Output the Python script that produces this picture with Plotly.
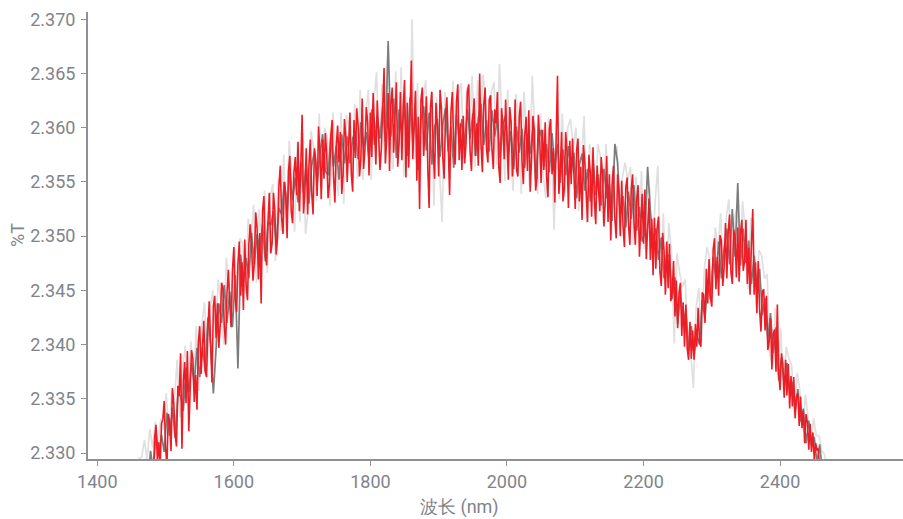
import plotly.graph_objects as go

# Sampling grids (nm)
red_start_nm = 1456
red_step_nm = 2
dark_start_nm = 1458
light_start_nm = 1457
gray_step_nm = 4

# %T values
red_t = [
    2.3240, 2.3260, 2.3235, 2.3255, 2.3278, 2.3249, 2.3257, 2.3283, 2.3282, 2.3265,
    2.3282, 2.3289, 2.3290, 2.3277, 2.3314, 2.3326, 2.3293, 2.3310, 2.3285, 2.3327,
    2.3331, 2.3348, 2.3305, 2.3288, 2.3336, 2.3329, 2.3302, 2.3360, 2.3346, 2.3317,
    2.3306, 2.3362, 2.3353, 2.3392, 2.3304, 2.3366, 2.3384, 2.3346, 2.3394, 2.3320,
    2.3358, 2.3395, 2.3387, 2.3347, 2.3372, 2.3340, 2.3402, 2.3417, 2.3373, 2.3399,
    2.3422, 2.3375, 2.3370, 2.3415, 2.3440, 2.3400, 2.3365, 2.3435, 2.3445, 2.3406,
    2.3438, 2.3397, 2.3417, 2.3457, 2.3452, 2.3417, 2.3400, 2.3448, 2.3469, 2.3438,
    2.3416, 2.3469, 2.3490, 2.3443, 2.3430, 2.3475, 2.3495, 2.3445, 2.3476, 2.3432,
    2.3497, 2.3454, 2.3441, 2.3493, 2.3511, 2.3490, 2.3459, 2.3475, 2.3522, 2.3508,
    2.3460, 2.3503, 2.3438, 2.3523, 2.3537, 2.3484, 2.3473, 2.3513, 2.3540, 2.3484,
    2.3493, 2.3540, 2.3524, 2.3483, 2.3498, 2.3546, 2.3565, 2.3517, 2.3502, 2.3550,
    2.3539, 2.3498, 2.3560, 2.3574, 2.3523, 2.3512, 2.3559, 2.3573, 2.3538, 2.3587,
    2.3523, 2.3564, 2.3612, 2.3521, 2.3540, 2.3581, 2.3520, 2.3566, 2.3589, 2.3540,
    2.3520, 2.3581, 2.3570, 2.3537, 2.3601, 2.3578, 2.3534, 2.3589, 2.3553, 2.3595,
    2.3576, 2.3535, 2.3548, 2.3593, 2.3607, 2.3555, 2.3531, 2.3583, 2.3602, 2.3568,
    2.3596, 2.3539, 2.3557, 2.3608, 2.3592, 2.3550, 2.3587, 2.3614, 2.3558, 2.3541,
    2.3607, 2.3572, 2.3618, 2.3602, 2.3555, 2.3571, 2.3627, 2.3562, 2.3580, 2.3619,
    2.3605, 2.3556, 2.3614, 2.3573, 2.3632, 2.3600, 2.3566, 2.3625, 2.3583, 2.3561,
    2.3580, 2.3616, 2.3655, 2.3567, 2.3592, 2.3632, 2.3560, 2.3622, 2.3637, 2.3577,
    2.3607, 2.3642, 2.3564, 2.3586, 2.3633, 2.3570, 2.3618, 2.3644, 2.3554, 2.3623,
    2.3563, 2.3617, 2.3662, 2.3571, 2.3606, 2.3634, 2.3551, 2.3610, 2.3525, 2.3625,
    2.3637, 2.3574, 2.3599, 2.3629, 2.3564, 2.3526, 2.3619, 2.3633, 2.3578, 2.3553,
    2.3623, 2.3601, 2.3555, 2.3635, 2.3618, 2.3573, 2.3553, 2.3611, 2.3628, 2.3578,
    2.3538, 2.3615, 2.3633, 2.3583, 2.3566, 2.3624, 2.3640, 2.3570, 2.3604, 2.3561,
    2.3611, 2.3567, 2.3585, 2.3633, 2.3640, 2.3578, 2.3560, 2.3609, 2.3627, 2.3574,
    2.3604, 2.3565, 2.3650, 2.3585, 2.3559, 2.3621, 2.3637, 2.3581, 2.3568, 2.3626,
    2.3630, 2.3580, 2.3562, 2.3617, 2.3604, 2.3633, 2.3564, 2.3549, 2.3618, 2.3604,
    2.3571, 2.3626, 2.3582, 2.3552, 2.3619, 2.3606, 2.3555, 2.3575, 2.3626, 2.3561,
    2.3555, 2.3610, 2.3624, 2.3569, 2.3548, 2.3593, 2.3610, 2.3560, 2.3616, 2.3541,
    2.3571, 2.3611, 2.3598, 2.3542, 2.3554, 2.3612, 2.3588, 2.3549, 2.3598, 2.3561,
    2.3605, 2.3555, 2.3536, 2.3599, 2.3608, 2.3557, 2.3581, 2.3531, 2.3590, 2.3648,
    2.3539, 2.3559, 2.3596, 2.3532, 2.3544, 2.3596, 2.3577, 2.3526, 2.3588, 2.3548,
    2.3590, 2.3546, 2.3525, 2.3579, 2.3590, 2.3532, 2.3564, 2.3515, 2.3584, 2.3568,
    2.3530, 2.3513, 2.3575, 2.3559, 2.3518, 2.3582, 2.3534, 2.3511, 2.3565, 2.3536,
    2.3523, 2.3573, 2.3557, 2.3509, 2.3532, 2.3574, 2.3513, 2.3557, 2.3496, 2.3548,
    2.3565, 2.3516, 2.3498, 2.3557, 2.3539, 2.3500, 2.3551, 2.3509, 2.3490, 2.3545,
    2.3554, 2.3510, 2.3492, 2.3543, 2.3557, 2.3513, 2.3492, 2.3534, 2.3547, 2.3481,
    2.3505, 2.3539, 2.3493, 2.3543, 2.3479, 2.3502, 2.3535, 2.3478, 2.3516, 2.3464,
    2.3517, 2.3470, 2.3508, 2.3518, 2.3467, 2.3454, 2.3503, 2.3487, 2.3446, 2.3495,
    2.3452, 2.3493, 2.3440, 2.3448, 2.3477, 2.3426, 2.3459, 2.3415, 2.3448, 2.3457,
    2.3408, 2.3439, 2.3398, 2.3437, 2.3396, 2.3386, 2.3421, 2.3387, 2.3413, 2.3386,
    2.3419, 2.3398, 2.3434, 2.3402, 2.3398, 2.3448, 2.3446, 2.3420, 2.3470, 2.3438,
    2.3479, 2.3443, 2.3435, 2.3488, 2.3498, 2.3451, 2.3481, 2.3445, 2.3501, 2.3496,
    2.3454, 2.3471, 2.3512, 2.3461, 2.3504, 2.3520, 2.3467, 2.3456, 2.3506, 2.3499,
    2.3462, 2.3508, 2.3458, 2.3503, 2.3515, 2.3468, 2.3477, 2.3515, 2.3456, 2.3489,
    2.3446, 2.3493, 2.3525, 2.3446, 2.3476, 2.3429, 2.3477, 2.3432, 2.3412, 2.3449,
    2.3451, 2.3413, 2.3445, 2.3395, 2.3403, 2.3424, 2.3377, 2.3410, 2.3414, 2.3375,
    2.3437, 2.3373, 2.3358, 2.3392, 2.3382, 2.3351, 2.3386, 2.3353, 2.3382, 2.3341,
    2.3371, 2.3343, 2.3370, 2.3332, 2.3352, 2.3355, 2.3325, 2.3352, 2.3323, 2.3339,
    2.3309, 2.3336, 2.3328, 2.3303, 2.3327, 2.3301, 2.3319, 2.3294, 2.3309, 2.3303,
    2.3304, 2.3283, 2.3292, 2.3275, 2.3287, 2.3273, 2.3283, 2.3265, 2.3276, 2.3263,
]

dark_t = [
    2.3245, 2.3272, 2.3256, 2.3290, 2.3271, 2.3302, 2.3283, 2.3319, 2.3298, 2.3317,
    2.3301, 2.3337, 2.3316, 2.3342, 2.3314, 2.3353, 2.3353, 2.3339, 2.3379, 2.3356,
    2.3383, 2.3364, 2.3397, 2.3370, 2.3398, 2.3376, 2.3425, 2.3400, 2.3355, 2.3393,
    2.3438, 2.3420, 2.3455, 2.3420, 2.3449, 2.3416, 2.3464, 2.3378, 2.3483, 2.3458,
    2.3480, 2.3461, 2.3503, 2.3474, 2.3502, 2.3485, 2.3511, 2.3477, 2.3513, 2.3510,
    2.3523, 2.3492, 2.3526, 2.3520, 2.3550, 2.3522, 2.3563, 2.3533, 2.3554, 2.3531,
    2.3568, 2.3540, 2.3567, 2.3530, 2.3565, 2.3578, 2.3547, 2.3575, 2.3594, 2.3560,
    2.3556, 2.3593, 2.3564, 2.3583, 2.3552, 2.3594, 2.3567, 2.3592, 2.3567, 2.3590,
    2.3597, 2.3571, 2.3605, 2.3582, 2.3596, 2.3570, 2.3617, 2.3584, 2.3611, 2.3590,
    2.3620, 2.3587, 2.3680, 2.3592, 2.3627, 2.3572, 2.3617, 2.3596, 2.3620, 2.3574,
    2.3628, 2.3587, 2.3614, 2.3561, 2.3607, 2.3620, 2.3579, 2.3614, 2.3566, 2.3601,
    2.3608, 2.3573, 2.3603, 2.3618, 2.3578, 2.3601, 2.3563, 2.3612, 2.3590, 2.3608,
    2.3584, 2.3617, 2.3590, 2.3613, 2.3574, 2.3609, 2.3622, 2.3584, 2.3607, 2.3578,
    2.3616, 2.3592, 2.3608, 2.3572, 2.3603, 2.3611, 2.3575, 2.3597, 2.3562, 2.3601,
    2.3577, 2.3599, 2.3563, 2.3594, 2.3576, 2.3599, 2.3552, 2.3589, 2.3598, 2.3564,
    2.3585, 2.3559, 2.3595, 2.3563, 2.3585, 2.3549, 2.3580, 2.3556, 2.3583, 2.3558,
    2.3577, 2.3535, 2.3566, 2.3576, 2.3542, 2.3562, 2.3532, 2.3573, 2.3538, 2.3557,
    2.3528, 2.3562, 2.3535, 2.3548, 2.3514, 2.3585, 2.3568, 2.3519, 2.3537, 2.3508,
    2.3541, 2.3516, 2.3547, 2.3505, 2.3527, 2.3495, 2.3503, 2.3564, 2.3523, 2.3496,
    2.3507, 2.3478, 2.3499, 2.3461, 2.3482, 2.3482, 2.3442, 2.3462, 2.3419, 2.3448,
    2.3418, 2.3432, 2.3394, 2.3417, 2.3390, 2.3409, 2.3400, 2.3441, 2.3424, 2.3460,
    2.3442, 2.3481, 2.3460, 2.3495, 2.3461, 2.3489, 2.3507, 2.3474, 2.3525, 2.3481,
    2.3549, 2.3473, 2.3507, 2.3475, 2.3496, 2.3456, 2.3482, 2.3453, 2.3470, 2.3427,
    2.3443, 2.3405, 2.3429, 2.3392, 2.3416, 2.3367, 2.3388, 2.3362, 2.3383, 2.3357,
    2.3366, 2.3338, 2.3359, 2.3329, 2.3341, 2.3309, 2.3330, 2.3307, 2.3315, 2.3291,
    2.3308, 2.3282, 2.3289, 2.3268, 2.3275,
]

light_t = [
    2.3270, 2.3295, 2.3296, 2.3312, 2.3294, 2.3322, 2.3305, 2.3329, 2.3308, 2.3332,
    2.3321, 2.3355, 2.3316, 2.3357, 2.3349, 2.3386, 2.3333, 2.3379, 2.3399, 2.3344,
    2.3403, 2.3362, 2.3417, 2.3357, 2.3418, 2.3439, 2.3380, 2.3430, 2.3450, 2.3400,
    2.3460, 2.3440, 2.3400, 2.3480, 2.3451, 2.3426, 2.3492, 2.3443, 2.3498, 2.3493,
    2.3447, 2.3516, 2.3496, 2.3529, 2.3457, 2.3525, 2.3483, 2.3542, 2.3466, 2.3535,
    2.3548, 2.3477, 2.3553, 2.3505, 2.3575, 2.3504, 2.3588, 2.3556, 2.3504, 2.3586,
    2.3513, 2.3595, 2.3502, 2.3525, 2.3597, 2.3580, 2.3532, 2.3613, 2.3544, 2.3600,
    2.3591, 2.3528, 2.3614, 2.3581, 2.3537, 2.3614, 2.3530, 2.3612, 2.3599, 2.3550,
    2.3622, 2.3553, 2.3635, 2.3552, 2.3613, 2.3635, 2.3552, 2.3624, 2.3651, 2.3573,
    2.3640, 2.3567, 2.3662, 2.3617, 2.3562, 2.3652, 2.3577, 2.3656, 2.3555, 2.3629,
    2.3568, 2.3700, 2.3571, 2.3641, 2.3540, 2.3625, 2.3644, 2.3554, 2.3634, 2.3528,
    2.3628, 2.3563, 2.3513, 2.3633, 2.3613, 2.3553, 2.3643, 2.3569, 2.3630, 2.3641,
    2.3571, 2.3637, 2.3588, 2.3648, 2.3564, 2.3644, 2.3580, 2.3649, 2.3624, 2.3568,
    2.3633, 2.3642, 2.3566, 2.3659, 2.3608, 2.3551, 2.3635, 2.3574, 2.3542, 2.3631,
    2.3610, 2.3539, 2.3633, 2.3592, 2.3546, 2.3648, 2.3600, 2.3539, 2.3613, 2.3556,
    2.3535, 2.3609, 2.3588, 2.3506, 2.3595, 2.3534, 2.3613, 2.3536, 2.3600, 2.3608,
    2.3582, 2.3600, 2.3523, 2.3571, 2.3611, 2.3512, 2.3585, 2.3568, 2.3516, 2.3585,
    2.3573, 2.3512, 2.3585, 2.3548, 2.3501, 2.3570, 2.3583, 2.3506, 2.3554, 2.3568,
    2.3551, 2.3564, 2.3492, 2.3555, 2.3502, 2.3560, 2.3488, 2.3539, 2.3545, 2.3481,
    2.3532, 2.3565, 2.3467, 2.3521, 2.3449, 2.3512, 2.3485, 2.3401, 2.3484, 2.3466,
    2.3453, 2.3460, 2.3404, 2.3394, 2.3360, 2.3434, 2.3452, 2.3403, 2.3469, 2.3490,
    2.3479, 2.3443, 2.3508, 2.3488, 2.3521, 2.3454, 2.3517, 2.3534, 2.3465, 2.3516,
    2.3527, 2.3463, 2.3532, 2.3505, 2.3451, 2.3516, 2.3515, 2.3436, 2.3487, 2.3482,
    2.3461, 2.3465, 2.3391, 2.3380, 2.3434, 2.3372, 2.3415, 2.3354, 2.3398, 2.3387,
    2.3381, 2.3335, 2.3374, 2.3357, 2.3321, 2.3354, 2.3333, 2.3304, 2.3332, 2.3316,
    2.3316, 2.3302, 2.3299, 2.3283, 2.3275,
]

x_ticks = [1400, 1600, 1800, 2000, 2200, 2400]
y_ticks = [2.330, 2.335, 2.340, 2.345, 2.350, 2.355, 2.360, 2.365, 2.370]
x_title = "波长 (nm)"
y_title = "%T"


def grid(start, step, n):
    return [start + step * i for i in range(n)]


TEXT = "#80848a"
LINE = "#8e9196"
FONT = "Roboto"

fig = go.Figure()
fig.add_trace(go.Scatter(x=grid(light_start_nm, gray_step_nm, len(light_t)), y=light_t,
                         mode="lines", line=dict(color="#e0e0e0", width=1.7), hoverinfo="skip"))
fig.add_trace(go.Scatter(x=grid(dark_start_nm, gray_step_nm, len(dark_t)), y=dark_t,
                         mode="lines", line=dict(color="#7d7d7d", width=1.7), hoverinfo="skip"))
fig.add_trace(go.Scatter(x=grid(red_start_nm, red_step_nm, len(red_t)), y=red_t,
                         mode="lines", line=dict(color="#ee1d25", width=1.6), hoverinfo="skip"))

fig.update_layout(
    width=903, height=519,
    margin=dict(l=88, r=0, t=12, b=60),
    paper_bgcolor="white", plot_bgcolor="white",
    showlegend=False,
    font=dict(family=FONT, size=18, color=TEXT),
    xaxis=dict(
        range=[1386.4, 2580], tickvals=x_ticks, ticktext=[str(v) for v in x_ticks],
        showgrid=False, zeroline=False, showline=True, linecolor=LINE, linewidth=2,
        ticks="outside", ticklen=5, tickwidth=1, tickcolor=LINE,
        tickfont=dict(family=FONT, size=18, color=TEXT),
    ),
    yaxis=dict(
        range=[2.32945, 2.37067], tickvals=y_ticks, ticktext=[f"{v:.3f}" for v in y_ticks],
        showgrid=False, zeroline=False, showline=True, linecolor=LINE, linewidth=2,
        ticks="outside", ticklen=5, tickwidth=1, tickcolor=LINE,
        tickfont=dict(family=FONT, size=18, color=TEXT), ticklabelstandoff=2,
    ),
    annotations=[
        dict(text=x_title, xref="paper", yref="paper", x=0.4564, y=-0.108,
             xanchor="center", yanchor="middle", showarrow=False,
             font=dict(family=FONT, size=18, color=TEXT)),
        dict(text=y_title, xref="paper", yref="paper", x=-0.0865, y=0.5,
             xanchor="center", yanchor="middle", showarrow=False, textangle=-90,
             font=dict(family=FONT, size=18, color=TEXT)),
    ],
)

fig.write_html(
    "out.html",
    config={"displayModeBar": False},
    post_script="document.body.style.margin='0';document.body.style.overflow='hidden';",
)
